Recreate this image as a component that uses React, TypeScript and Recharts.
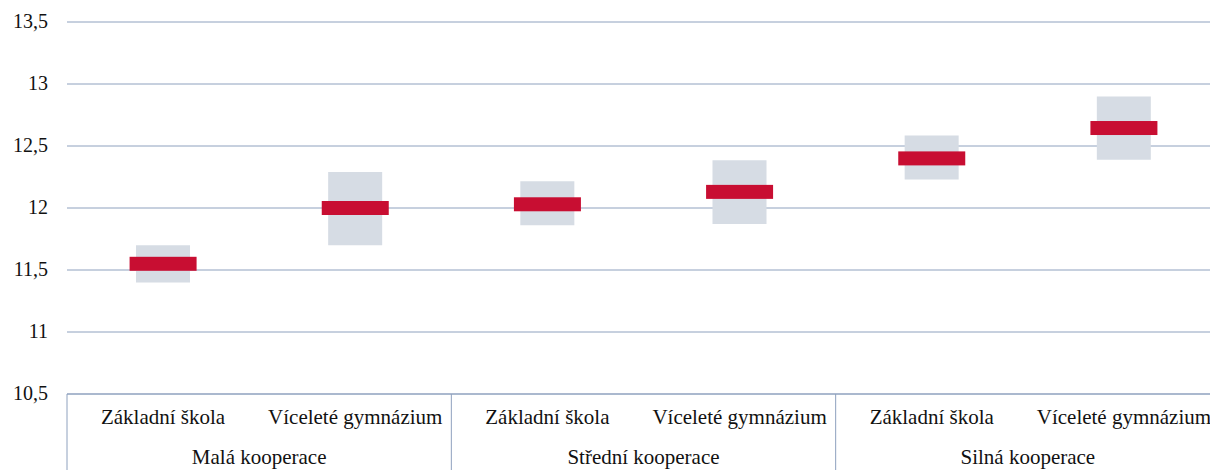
import React from "react";
import { ComposedChart, Bar, Scatter, XAxis, YAxis, CartesianGrid } from "recharts";

const categories = ["Základní škola", "Víceleté gymnázium", "Základní škola", "Víceleté gymnázium", "Základní škola", "Víceleté gymnázium"];
const groups = ["Malá kooperace", "Malá kooperace", "Střední kooperace", "Střední kooperace", "Silná kooperace", "Silná kooperace"];
const lowValues = [11.4, 11.7, 11.86, 11.87, 12.23, 12.39];
const highValues = [11.7, 12.29, 12.215, 12.385, 12.585, 12.9];
const meanValues = [11.55, 12.0, 12.03, 12.13, 12.4, 12.645];
const yTicks = [10.5, 11, 11.5, 12, 12.5, 13, 13.5];

const data = categories.map((c, i) => ({
  key: `c${i}`,
  name: c,
  group: groups[i],
  range: [lowValues[i], highValues[i]],
  mean: meanValues[i],
}));

const CHART_W = 1220;
const CHART_H = 470;
const Y_AXIS_W = 67;
const MARGIN = { top: 22, right: 0, bottom: 0, left: 0 };
const PLOT_W = CHART_W - MARGIN.left - MARGIN.right - Y_AXIS_W;
const CAT_W = PLOT_W / categories.length;

const GRID = "#8EA1BE";
const FONT = "Liberation Serif, Times New Roman, serif";
const FS_X = 21;
const FS_Y = 20;

const CatTick = (props: any) => {
  const { x, y, payload, index } = props;
  const i = typeof index === "number" ? index : 0;
  const d = data[i];
  const isFirst = i % 2 === 0;
  const isLast = i === data.length - 1;
  return (
    <g>
      <text x={x} y={y + 30} textAnchor="middle" fontFamily={FONT} fontSize={FS_X} fill="#111">
        {d ? d.name : payload.value}
      </text>
      {isFirst && (
        <>
          <line x1={x - CAT_W / 2} x2={x - CAT_W / 2} y1={y} y2={y + 80} stroke={GRID} strokeWidth={1} />
          <text x={x + CAT_W / 2} y={y + 70} textAnchor="middle" fontFamily={FONT} fontSize={FS_X} fill="#111">
            {d ? d.group : ""}
          </text>
        </>
      )}
      {isLast && (
        <line x1={x + CAT_W / 2} x2={x + CAT_W / 2} y1={y} y2={y + 80} stroke={GRID} strokeWidth={1} />
      )}
    </g>
  );
};

const YTick = (props: any) => {
  const { x, y, payload } = props;
  return (
    <text x={x} y={y} dy={6} textAnchor="end" fontFamily={FONT} fontSize={FS_Y} fill="#111">
      {String(payload.value).replace(".", ",")}
    </text>
  );
};

const MeanShape = (props: any) => {
  const { cx, cy } = props;
  if (cx == null || cy == null) return null;
  return <rect x={cx - 33.5} y={cy - 7} width={67} height={14} fill="#C80E32" />;
};

export default function App() {
  return (
    <div style={{ position: "fixed", left: 0, top: 0, width: 1210, height: 470, overflow: "hidden", background: "#fff" }}>
      <ComposedChart width={CHART_W} height={CHART_H} data={data} margin={MARGIN}>
        <CartesianGrid vertical={false} stroke={GRID} strokeWidth={1} />
        <XAxis
          dataKey="key"
          type="category"
          height={76}
          tickLine={false}
          tickSize={0}
          tickMargin={0}
          axisLine={{ stroke: GRID, strokeWidth: 1 }}
          tick={<CatTick />}
          interval={0}
        />
        <YAxis
          type="number"
          domain={[10.5, 13.5]}
          ticks={yTicks}
          width={Y_AXIS_W}
          axisLine={false}
          tickLine={false}
          tickSize={0}
          tickMargin={19}
          tick={<YTick />}
          allowDataOverflow
        />
        <Bar dataKey="range" barSize={54} fill="#D6DCE4" isAnimationActive={false} />
        <Scatter dataKey="mean" shape={<MeanShape />} isAnimationActive={false} />
      </ComposedChart>
    </div>
  );
}
